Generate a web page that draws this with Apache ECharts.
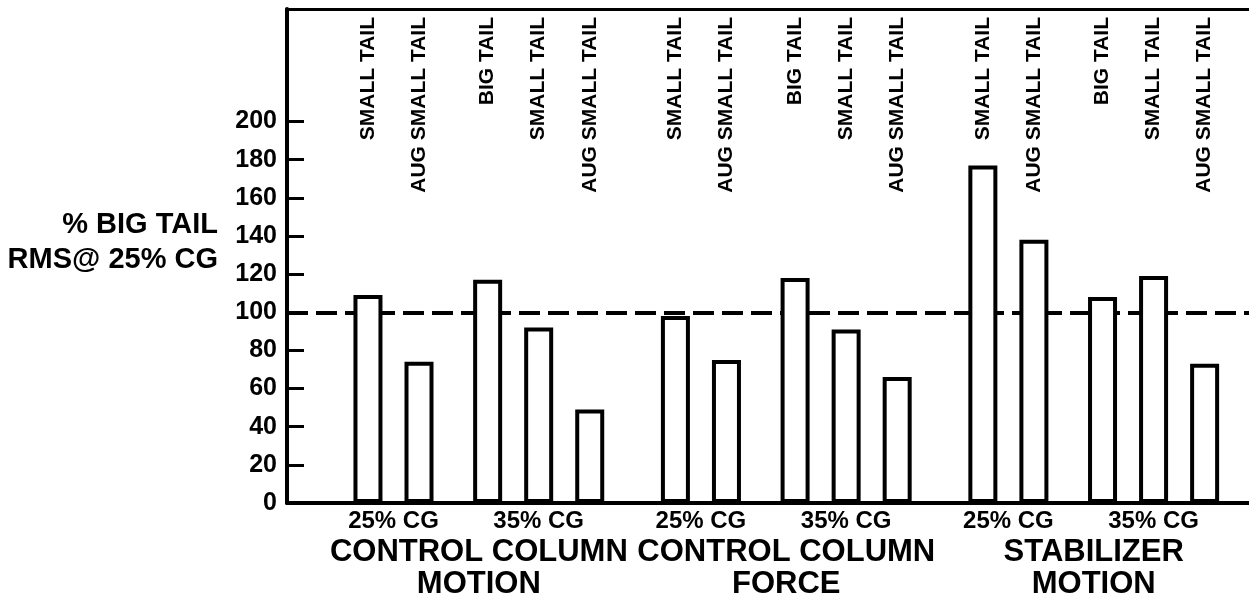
<!DOCTYPE html>
<html>
<head>
    <meta charset="utf-8" />
    <script src="https://cdn.jsdelivr.net/npm/echarts@6/dist/echarts.min.js"></script>
    <style>
        html, body { margin: 0; padding: 0; background: #fff; }
    </style>
</head>
<body>
    <div id="main" style="width:1249px;height:600px;"></div>
    <script>
        // groups along the x axis
        var groups = ['CONTROL COLUMN\nMOTION', 'CONTROL COLUMN\nFORCE', 'STABILIZER\nMOTION'];
        var cgNames = ['25% CG', '35% CG'];
        var tailNames = ['SMALL TAIL', 'AUG SMALL TAIL', 'BIG TAIL', 'SMALL TAIL', 'AUG SMALL TAIL'];

        // % big tail rms @ 25% cg, one value per group
        var small25 = [109, 98, 177];
        var aug25 = [74, 75, 138];
        var big35 = [117, 118, 108];
        var small35 = [92, 91, 119];
        var aug35 = [49, 66, 73];
        var refLine = 100;
        var yTicks = [0, 20, 40, 60, 80, 100, 120, 140, 160, 180, 200];

        var FONT = '"Liberation Sans", Arial, Helvetica, sans-serif';
        var X_MIN = -0.624, X_MAX = 2.505;
        var BAR_W = 29, GAP = 0.76, SPACER_W = 10;
        var pxPerUnit = (1249 - 287) / (X_MAX - X_MIN);

        // columns: two 25% bars, a blank spacer, three 35% bars
        var columns = [small25, aug25, null, big35, small35, aug35];
        var widths = columns.map(function (c) { return c ? BAR_W : SPACER_W; });

        // where the CG labels go, same sums echarts does for bar offsets
        var total = 0;
        widths.forEach(function (w, i) { total += w + (i < widths.length - 1 ? w * GAP : 0); });
        var centers = [], off = -total / 2;
        widths.forEach(function (w) { centers.push(off + w / 2); off += w * (1 + GAP); });
        var cgOff = [(centers[0] + centers[1]) / 2 / pxPerUnit, centers[4] / pxPerUnit];
        var cgPos = [];
        groups.forEach(function (g, i) { cgPos.push(i + cgOff[0], i + cgOff[1]); });

        var series = [];
        var t = 0;
        columns.forEach(function (vals, k) {
            if (!vals) {
                series.push({ type: 'bar', barWidth: SPACER_W, barGap: GAP * 100 + '%', data: [] });
                series.push({ type: 'bar', xAxisIndex: 3, yAxisIndex: 1, barWidth: SPACER_W, barGap: GAP * 100 + '%', data: [] });
                return;
            }
            var s = {
                type: 'bar',
                name: tailNames[t],
                barWidth: BAR_W,
                barGap: GAP * 100 + '%',
                z: 2,
                silent: true,
                itemStyle: { color: '#fff', borderColor: '#000', borderWidth: 4 },
                data: vals.map(function (v, i) { return [i, v]; })
            };
            if (k === 0) {
                s.markLine = {
                    silent: true,
                    z: 1,
                    symbol: ['none', 'none'],
                    label: { show: false },
                    lineStyle: { color: '#000', width: 4, type: [21, 8] },
                    data: [{ yAxis: refLine }]
                };
            }
            series.push(s);
            // transparent full height twin in the overlay grid, carries the rotated name
            series.push({
                type: 'bar',
                xAxisIndex: 3,
                yAxisIndex: 1,
                barWidth: BAR_W,
                barGap: GAP * 100 + '%',
                silent: true,
                itemStyle: { color: 'rgba(0,0,0,0)' },
                label: {
                    show: true,
                    position: 'insideTop',
                    distance: 8,
                    rotate: 90,
                    align: 'right',
                    verticalAlign: 'middle',
                    formatter: tailNames[t],
                    color: '#000',
                    fontSize: 21,
                    fontWeight: 'bold',
                    fontFamily: FONT
                },
                data: vals.map(function (v, i) { return [i, 1]; })
            });
            t++;
        });

        var myChart = echarts.init(document.getElementById('main'));

        var option = {
            animation: false,
            backgroundColor: '#fff',
            title: {
                text: '% BIG TAIL\nRMS@ 25% CG',
                left: 218,
                top: 207,
                padding: 0,
                textAlign: 'right',
                textStyle: { fontSize: 29, fontWeight: 'bold', lineHeight: 35, color: '#000', fontFamily: FONT }
            },
            grid: [
                { left: 287, right: 0, top: 9, bottom: 94 },
                { left: 287, right: 0, top: 9, bottom: 94 }
            ],
            xAxis: [
                {
                    gridIndex: 0, type: 'value', min: X_MIN, max: X_MAX, position: 'bottom',
                    axisLine: { show: true, onZero: false, lineStyle: { color: '#000', width: 4 } },
                    axisTick: { show: false },
                    splitLine: { show: false },
                    axisLabel: {
                        customValues: [0, 1, 2],
                        formatter: function (v) { return groups[Math.round(v)]; },
                        margin: 33, lineHeight: 32,
                        color: '#000', fontSize: 31, fontWeight: 'bold', fontFamily: FONT
                    }
                },
                {
                    gridIndex: 0, type: 'value', min: X_MIN, max: X_MAX, position: 'top',
                    axisLine: { show: true, onZero: false, lineStyle: { color: '#000', width: 3 } },
                    axisTick: { show: false },
                    axisLabel: { show: false },
                    splitLine: { show: false }
                },
                {
                    gridIndex: 0, type: 'value', min: X_MIN, max: X_MAX, position: 'bottom',
                    axisLine: { show: false, onZero: false },
                    axisTick: { show: false },
                    splitLine: { show: false },
                    axisLabel: {
                        customValues: cgPos,
                        formatter: function (v) { return v - Math.round(v) < 0 ? cgNames[0] : cgNames[1]; },
                        margin: 6, lineHeight: 24,
                        color: '#000', fontSize: 24, fontWeight: 'bold', fontFamily: FONT
                    }
                },
                { gridIndex: 1, type: 'value', min: X_MIN, max: X_MAX, show: false }
            ],
            yAxis: [
                {
                    gridIndex: 0, type: 'value', min: 0, max: 259, interval: 20,
                    axisLine: { show: true, onZero: false, lineStyle: { color: '#000', width: 4 } },
                    axisTick: { show: true, inside: true, length: 17, customValues: yTicks, lineStyle: { color: '#000', width: 3 } },
                    axisLabel: { customValues: yTicks, margin: 10, color: '#000', fontSize: 25, fontWeight: 'bold', fontFamily: FONT },
                    splitLine: { show: false }
                },
                { gridIndex: 1, type: 'value', min: 0, max: 1, show: false }
            ],
            series: series
        };

        myChart.setOption(option);
    </script>
</body>
</html>
